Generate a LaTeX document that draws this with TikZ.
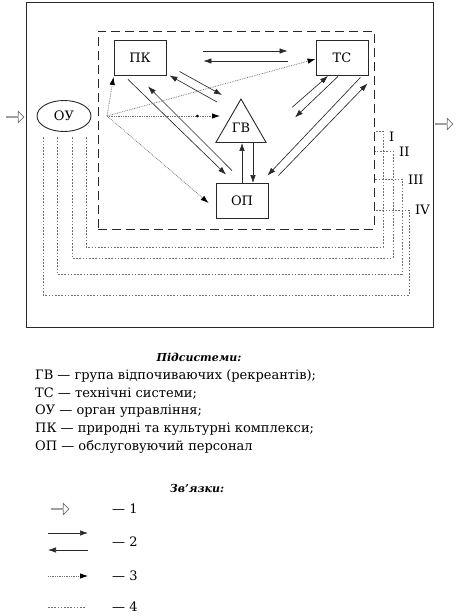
\documentclass[tikz,border=0pt]{standalone}
\usepackage{fontspec}
\setmainfont{DejaVu Serif}
\usepackage{tikz}
\usetikzlibrary{shapes.geometric, shapes.arrows, positioning, arrows.meta, calc, decorations.markings}
\definecolor{inkgray}{RGB}{40,40,40}
\definecolor{dotgray}{RGB}{110,110,110}

\begin{document}
\begin{tikzpicture}[x=1pt, y=-1pt,
  font=\fontsize{13}{15}\selectfont,
  subsys/.style={rectangle, draw=inkgray, line width=0.9pt,
    minimum width=52pt, minimum height=35pt, inner sep=0pt},
  flow/.style={-{Latex[length=8pt,width=5.5pt]}, draw=inkgray, line width=0.65pt},
  ctrl/.style={-{Latex[length=8pt,width=5.5pt,color=black]}, draw=dotgray,
    densely dotted, line width=0.75pt},
  fb/.style={draw=dotgray, dash pattern=on 1.6pt off 1.6pt, line width=0.65pt},
  inout/.style={single arrow, draw=dotgray, line width=0.7pt, minimum height=17pt,
    minimum width=11pt, single arrow head extend=2.8pt, inner sep=0pt},
  caption/.style={anchor=west, inner sep=0pt},
  heading/.style={font=\fontsize{11}{13}\selectfont\bfseries\itshape}
]
  \useasboundingbox (0,0) rectangle (458,616);

  % environment and system boundary
  \node[draw=inkgray, line width=0.9pt, minimum width=407pt, minimum height=325pt,
    inner sep=0pt] (env) at (229.5,164.5) {};
  \node[draw=inkgray, dash pattern=on 9pt off 5pt, line width=1pt,
    minimum width=276pt, minimum height=198pt, inner sep=0pt] (sys) at (236,130) {};

  % subsystems
  \node[subsys] (pk) at (140,58) {ПК};
  \node[subsys] (tc) at (342,58) {ТС};
  \node[subsys] (op) at (242,201) {ОП};
  \node[regular polygon, regular polygon sides=3, draw=inkgray, line width=0.9pt,
    minimum size=58pt, inner sep=0pt] (gv) at (241,128) {ГВ};
  \node[ellipse, draw=inkgray, line width=0.9pt, minimum width=54pt,
    minimum height=31pt, inner sep=0pt] (ou) at (64,116) {ОУ};
  \node[inout] (inarr) at (15,117) {};
  \node[inout] (outarr) at (444,124) {};

  % direct and back links
  \draw[flow] ($(pk.east)+(37,-7)$) -- ($(tc.west)+(-28,-7)$);
  \draw[flow] ($(tc.west)+(-28,3)$) -- ($(pk.east)+(37,3)$);
  \draw[flow] ($(pk.south east)+(13,-4.5)$) -- ($(gv.center)+(-19,-33)$);
  \draw[flow] ($(gv.center)+(-24,-26)$) -- ($(pk.south east)+(3,-0.5)$);
  \draw[flow] ($(pk.south)+(-12,3.5)$) -- ($(op.north)+(-16,-8.5)$);
  \draw[flow] ($(op.north)+(-10,-12.5)$) -- ($(pk.south)+(8,10.5)$);
  \draw[flow] (op.north) -- (op.north |- gv.south);
  \draw[flow] ($(op.north |- gv.south)+(11,0)$) -- ($(op.north)+(11,0)$);
  \draw[flow] ($(tc.south)+(-50,31.5)$) -- ($(tc.south)+(-14,0)$);
  \draw[flow] ($(tc.south)+(-4,0.5)$) -- ($(tc.south)+(-47,41.5)$);
  \draw[flow] ($(tc.south east)+(-8,1.5)$) -- ($(op.north east)+(-1,-7.5)$);
  \draw[flow] ($(op.north east)+(10,-7.5)$) -- ($(tc.south east)+(-1,7.5)$);

  % control links
  \coordinate (hub) at (107,116);
  \draw[ctrl] (hub) -- ($(pk.south west)+(0,1)$);
  \draw[ctrl] (hub) -- ($(tc.west)+(0,1)$);
  \draw[ctrl, postaction={decorate}, decoration={markings,
    mark=at position 0.8 with {\fill[black] (0,0) circle (1.5pt);}}]
    (hub) -- ($(gv.center)+(-21,-12)$);
  \draw[ctrl] (hub) -- ($(op.west)+(-7,2)$);

  % feedback loops
  \foreach \xo/\xr/\yb/\ye/\yl/\lab in {22/383/247/1/137/I, 8/393/258/21/152/II,
      -7/402/274/49/180/III, -21/409/295/80/210/IV} {
    \draw[fb] ($(ou.south)+(\xo,5.5)$) |- (\xr,\yb) |- ($(sys.east)+(0,\ye)$);
    \node[caption] (loop\lab) at (\xr+6,\yl) {\lab};
  }

  % legend: subsystems
  \node[heading] (subshead) at (199,357) {Підсистеми:};
  \foreach \desc [count=\i] in {{ГВ — група відпочиваючих (рекреантів);},
      {ТС — технічні системи;}, {ОУ — орган управління;},
      {ПК — природні та культурні комплекси;}, {ОП — обслуговуючий персонал}}
    \node[caption] (sub\i) at (35,{376+17.8*(\i-1)}) {\desc};

  % legend: links
  \node[heading] (linkhead) at (197,488) {Зв'язки:};
  \node[inout] (key1) at (60,509) {};
  \node[caption] (lab1) at (112,509) {— 1};
  \node[caption] (lab2) at (112,542) {— 2};
  \node[caption] (lab3) at (112,576) {— 3};
  \node[caption] (lab4) at (112,607) {— 4};
  \coordinate (k2a) at (48,533);
  \coordinate (k2b) at (88,533);
  \coordinate (k2c) at (48,550);
  \coordinate (k2d) at (88,550);
  \coordinate (k3a) at (48,576);
  \coordinate (k3b) at (88,576);
  \coordinate (k4a) at (48,607);
  \coordinate (k4b) at (86,607);
  \draw[flow] (k2a) -- (k2b);
  \draw[flow] (k2d) -- (k2c);
  \draw[ctrl] (k3a) -- (k3b);
  \draw[fb] (k4a) -- (k4b);
\end{tikzpicture}
\end{document}
